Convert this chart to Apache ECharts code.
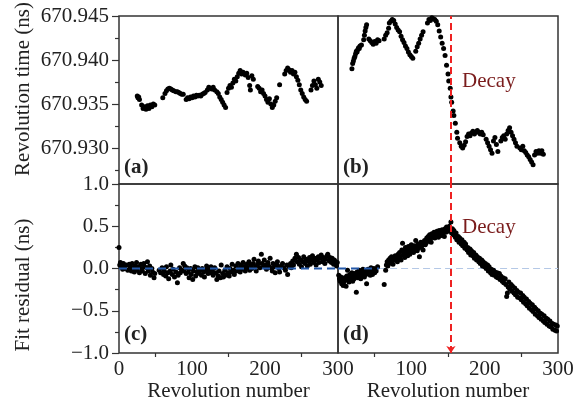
<!DOCTYPE html>
<html><head><meta charset="utf-8">
<script src="https://cdn.jsdelivr.net/npm/echarts@6/dist/echarts.min.js"></script>
<style>html,body{margin:0;padding:0;background:#fff}#c{width:584px;height:410px}</style>
</head><body><div id="c"></div>
<script>
// ---- data ----
const revTickLabels = [0, 100, 200, 300];
const revTickLabelsRight = [100, 200, 300];
const revMinorTicks = [50, 150, 250];
const timeTickLabels = [670.930, 670.935, 670.940, 670.945];
const timeMinorTicks = [670.9275, 670.9325, 670.9375, 670.9425];
const residTickLabels = [-1.0, -0.5, 0.0, 0.5, 1.0];
const residMinorTicks = [-0.75, -0.25, 0.25, 0.75];
const decayRevolution = 154;

// (a) revolution time, no decay [revolution, ns]
const panelA = [[25,670.9359],[26,670.9357],[27,670.9358],[28,670.9355],
[31,670.9349],[33,670.9345],[35,670.9347],[37,670.9344],[39,670.9348],[41,670.9345],[43,670.9349],[45,670.9347],[47,670.9350],[49,670.9349],
[60,670.9357],[63,670.9362],[65,670.9365],[67,670.9367],[69,670.9368],[71,670.9367],[73,670.9366],[75,670.9365],[78,670.9364],[80,670.9364],[82,670.9363],[84,670.9362],[86,670.9361],[88,670.9361],
[92,670.9355],[94,670.9357],[96,670.9356],[98,670.9358],[100,670.9357],[102,670.9359],[104,670.9358],[106,670.9360],[108,670.9359],[110,670.9360],[112,670.9359],[114,670.9361],[116,670.9362],[118,670.9363],
[121,670.9366],[123,670.9369],[125,670.9368],[127,670.9367],[129,670.9369],[131,670.9366],
[134,670.9364],[136,670.9362],[138,670.9358],[140,670.9355],[142,670.9352],[144,670.9349],[146,670.9346],
[148,670.9363],[150,670.9368],[152,670.9371],[154,670.9369],[156,670.9374],[158,670.9378],[160,670.9376],[162,670.9381],[164,670.9385],[166,670.9388],[168,670.9384],[170,670.9386],
[173,670.9383],[175,670.9385],[177,670.9380],[179,670.9371],[180,670.9366],[182,670.9382],[184,670.9378],
[190,670.9370],[192,670.9368],[194,670.9364],[196,670.9366],[198,670.9362],[200,670.9359],[202,670.9355],[204,670.9352],[206,670.9356],[208,670.9350],[210,670.9346],[212,670.9349],[214,670.9353],[216,670.9357],
[220,670.9372],
[227,670.9384],[229,670.9388],[231,670.9391],[233,670.9389],[235,670.9386],[237,670.9388],[239,670.9384],[241,670.9386],[243,670.9381],[245,670.9377],[247,670.9372],[249,670.9366],[251,670.9362],[253,670.9358],[255,670.9355],[257,670.9353],
[263,670.9366],[265,670.9371],[267,670.9376],[269,670.9372],[271,670.9368],[273,670.9378],[275,670.9375],[277,670.9371]];

// (b) revolution time, with decay
const panelB = [[19,670.9390],[20,670.9396],[21,670.9399],[22,670.9402],[23,670.9404],[24,670.9407],[25,670.9410],[26,670.9409],[27,670.9412],[28,670.9414],[29,670.9413],[30,670.9416],[32,670.9417],
[35,670.9423],[36,670.9428],[37,670.9433],[38,670.9437],[39,670.9440],
[42,670.9424],[44,670.9422],[46,670.9420],[48,670.9418],[50,670.9421],[52,670.9419],[54,670.9423],[56,670.9422],
[63,670.9424],[65,670.9428],[67,670.9431],[69,670.9436],[70,670.9442],[72,670.9444],[74,670.9446],[76,670.9445],[78,670.9441],[80,670.9437],[82,670.9434],[84,670.9432],
[86,670.9427],[88,670.9423],[90,670.9420],[92,670.9416],[94,670.9413],[96,670.9409],[98,670.9406],[100,670.9404],[102,670.9402],
[106,670.9410],[108,670.9415],[110,670.9419],[112,670.9424],[114,670.9428],[116,670.9432],
[122,670.9442],[124,670.9446],[126,670.9445],[128,670.9448],[130,670.9447],[132,670.9446],[134,670.9444],[136,670.9440],[138,670.9433],[140,670.9426],[142,670.9419],[144,670.9413],[146,670.9405],[148,670.9394],[150,670.9384],[151,670.9376],[153,670.9368],[154,670.9358],[155,670.9352],[157,670.9342],[158,670.9337],[160,670.9328],[162,670.9318],[163,670.9311],
[166,670.9306],[168,670.9302],[170,670.9300],[172,670.9303],[174,670.9307],[176,670.9313],[178,670.9316],[180,670.9314],[182,670.9317],[184,670.9319],[186,670.9316],[188,670.9318],[190,670.9320],[192,670.9318],[194,670.9316],[196,670.9318],[198,670.9315],
[202,670.9310],[204,670.9306],[206,670.9302],[208,670.9298],[210,670.9294],[212,670.9308],[214,670.9312],[216,670.9304],[218,670.9296],
[222,670.9308],[224,670.9312],[226,670.9314],[228,670.9310],[230,670.9316],[232,670.9320],[234,670.9323],[236,670.9318],[238,670.9314],[240,670.9310],[242,670.9306],[244,670.9302],
[248,670.9300],[250,670.9298],[252,670.9302],[254,670.9297],[256,670.9295],[258,670.9292],[260,670.9290],[262,670.9287],[264,670.9284],[266,670.9281],[268,670.9292],[270,670.9296],[272,670.9294],[274,670.9297],[276,670.9294],[278,670.9297],[280,670.9293]];

// (c) fit residual, no decay [revolution, ns]
const panelC = [[0,0.25],[1,0.04],[2,0.07],[3,0.02],[4,0.05],[5,-0.01],[6,0.06],[7,0.03],[8,0.00],[10,0.04],[12,-0.02],[14,0.05],[15,0.02],[17,-0.03],[18,0.06],[20,0.01],[21,-0.04],[22,0.03],[24,0.07],[25,-0.02],[27,0.02],[28,-0.05],[30,0.05],[31,0.00],[32,-0.03],[34,0.06],[35,0.02],[36,-0.06],[38,0.01],[39,0.08],[40,-0.03],[42,0.03],[43,-0.08],[45,0.00],[46,-0.04],[48,-0.11],[49,-0.06],
[55,-0.02],[57,-0.05],[59,0.01],[61,-0.07],[62,-0.03],[64,-0.09],[65,0.02],[67,-0.05],[68,-0.12],[70,-0.03],[71,0.04],[73,-0.07],[74,-0.01],[76,-0.10],[78,-0.04],[80,-0.17],[81,-0.08],[83,0.01],[84,-0.05],[86,-0.02],[88,0.06],[89,-0.03],[90,0.03],[92,-0.06],[93,0.01],[95,-0.04],[96,-0.11],[98,0.00],[99,-0.07],[101,-0.13],[102,-0.03],[104,0.02],[105,-0.09],[107,-0.04],[108,0.01],[110,-0.06],[111,-0.02],[113,-0.08],[114,0.00],[116,-0.04],[117,-0.10],[119,-0.02],[120,0.03],[122,-0.06],[123,-0.01],[125,-0.05],[126,0.02],[128,-0.03],[129,-0.08],[131,0.01],[133,-0.05],[134,-0.13],[136,-0.09],[137,-0.03],[139,-0.11],[140,0.04],[142,-0.06],[143,-0.10],[145,-0.02],[146,-0.08],[148,0.02],[149,-0.05],[151,-0.09],[152,0.00],[154,-0.04],[155,0.05],[157,-0.02],[158,-0.07],[160,0.03],[161,-0.03],[163,0.06],[164,0.00],[166,-0.04],[167,0.04],[169,-0.01],[170,0.07],[172,0.02],[173,-0.03],[175,0.05],[176,0.01],[178,0.08],[179,-0.02],[181,0.04],[182,0.00],[184,0.06],[185,0.11],[187,0.02],[188,-0.03],[190,0.05],[191,0.09],[193,0.01],[195,0.17],[196,0.06],[198,0.02],[199,0.10],[201,0.04],[202,-0.01],[204,0.07],[205,0.03],[207,0.12],[208,0.01],[210,-0.03],[211,0.06],[213,0.02],[214,-0.05],[216,0.04],[217,0.08],[219,0.00],[220,-0.04],[222,0.03],[224,0.06],[226,0.01],[228,-0.02],[230,0.04],[231,-0.07],[233,0.02],[235,0.06],[236,0.01],[238,0.09],[239,0.04],[241,0.12],[243,0.17],[244,0.08],[246,0.13],[247,0.05],[249,0.10],[250,0.02],[252,0.08],[253,0.14],[255,0.06],[256,0.11],[258,0.03],[259,0.09],[261,0.13],[262,0.05],[264,0.10],[265,0.15],[267,0.07],[268,0.12],[270,0.04],[271,0.10],[273,0.14],[274,0.07],[276,0.12],[277,0.16],[279,0.08],[280,0.13],[282,0.06],[283,0.11],[285,0.15],[286,0.17],[288,0.09],[289,0.13],[291,0.07],[292,0.12],[294,0.05],[295,0.10],[297,0.08],[298,0.03],[299,0.07]];

// (d) fit residual, with decay
const panelD = [[1,-0.08],[2,-0.12],[3,-0.15],[4,-0.10],[5,-0.18],[6,-0.13],[7,-0.20],[8,-0.16],[9,-0.11],[10,-0.14],[11,-0.21],[12,-0.09],[13,-0.02],[14,-0.12],[15,-0.16],[16,-0.07],[17,-0.13],[18,-0.10],[19,-0.05],[20,-0.15],[21,-0.09],[22,-0.12],[23,-0.06],[24,-0.10],[25,-0.28],[26,-0.04],[27,-0.11],[28,-0.08],[29,-0.02],[30,-0.07],[31,-0.12],[32,-0.05],[33,-0.09],[34,-0.01],[35,-0.06],[36,-0.10],[37,-0.03],[38,-0.07],[39,-0.18],[40,-0.04],[41,-0.01],[42,-0.06],[43,-0.02],[44,-0.08],[45,0.01],[46,-0.04],[47,-0.07],[48,-0.02],[49,0.00],[50,-0.05],
[52,-0.03],[54,0.02],[63,-0.19],[65,-0.02],[66,0.04],[67,0.08],[68,0.03],[69,0.10],[70,0.06],[71,0.12],[72,0.07],[73,0.14],[74,0.09],[75,0.05],[76,0.11],[78,0.15],[79,0.10],[80,0.13],[81,0.08],[82,0.17],[83,0.12],[84,0.19],[85,0.14],[86,0.10],[87,0.22],[88,0.30],[89,0.16],[90,0.20],[91,0.13],[92,0.25],[93,0.18],[94,0.22],[95,0.15],[96,0.26],[97,0.20],[98,0.17],[99,0.23],[100,0.28],[101,0.21],[102,0.25],[103,0.19],[104,0.27],[105,0.23],[106,0.33],[107,0.26],[108,0.21],[109,0.29],[110,0.24],[111,0.14],[112,0.27],[113,0.31],[114,0.26],[115,0.30],[116,0.22],[118,0.33],[119,0.28],
[120,0.30],[121,0.36],[122,0.32],[123,0.38],[124,0.34],[125,0.40],[126,0.35],[127,0.31],[128,0.41],[129,0.37],[130,0.39],[131,0.43],[132,0.36],[133,0.42],[134,0.38],[135,0.44],[136,0.40],[137,0.37],[138,0.45],[139,0.41],[140,0.43],[141,0.39],[142,0.46],[143,0.42],[144,0.44],[145,0.38],[146,0.47],[147,0.43],[148,0.49],[149,0.45],[150,0.48],[151,0.44],[152,0.50],[153,0.46],[154,0.55],[155,0.42],
[156,0.47],[157,0.40],[158,0.45],[160,0.37],[161,0.42],[162,0.34],[164,0.38],[165,0.31],[166,0.36],[168,0.29],[169,0.34],[170,0.27],[172,0.31],[173,0.24],[174,0.29],[176,0.22],[177,0.25],[178,0.19],[180,0.23],[181,0.16],[182,0.21],[184,0.15],[185,0.19],[186,0.12],[188,0.16],[189,0.10],[190,0.14],[192,0.08],[193,0.12],[194,0.06],[196,0.10],[197,0.03],[198,0.08],[200,0.02],[201,0.06],[202,0.00],[204,0.04],[205,-0.03],[206,0.02],[208,-0.05],[209,-0.01],[210,-0.07],[212,-0.02],[213,-0.08],[214,-0.04],[216,-0.10],[217,-0.05],[218,-0.11],[220,-0.06],[221,-0.13],[222,-0.09],[224,-0.15],[225,-0.11],[226,-0.17],[228,-0.12],[229,-0.19],[230,-0.33],[231,-0.29],[232,-0.22],[233,-0.16],[234,-0.24],[236,-0.19],[237,-0.27],[238,-0.21],[240,-0.29],[241,-0.23],[242,-0.31],[244,-0.26],[245,-0.34],[246,-0.28],[248,-0.35],[249,-0.29],[250,-0.37],[252,-0.32],[253,-0.40],[254,-0.34],[256,-0.42],[257,-0.36],[258,-0.44],[260,-0.39],[261,-0.47],[262,-0.41],[264,-0.49],[265,-0.43],[266,-0.51],[268,-0.46],[269,-0.54],[270,-0.48],[272,-0.56],[273,-0.50],[274,-0.58],[276,-0.53],[277,-0.60],[278,-0.54],[280,-0.62],[281,-0.56],[282,-0.64],[284,-0.59],[285,-0.66],[286,-0.60],[288,-0.68],[289,-0.62],[290,-0.69],[292,-0.65],[293,-0.72],[294,-0.66],[296,-0.73],[297,-0.67],[298,-0.74],[299,-0.68]];

// zero reference segments (revolution ranges)
const zeroLineC = [[0,0],[300,0]];
const zeroLineDDark = [[0,0],[56,0]];
const zeroLineDLight = [[56,0],[300,0]];

// ---- chart ----
const FONT = '"Liberation Serif","Times New Roman",serif';
const TXT = '#222';
const timeMin = 670.945 - 168 * 0.005 / 44;

function gridBox(left, top, width, height) {
  return {left, top, width, height, show: true, borderColor: '#333', borderWidth: 1.5, backgroundColor: 'transparent', containLabel: false};
}
function xHidden(gi) {
  return {type: 'value', gridIndex: gi, min: 0, max: 300, axisLine: {show: false}, axisTick: {show: false}, axisLabel: {show: false}, splitLine: {show: false}};
}
function xShown(gi, labels) {
  return {type: 'value', gridIndex: gi, min: 0, max: 300,
    axisLine: {show: false, onZero: false},
    axisTick: {show: true, inside: false, length: 4, lineStyle: {color: '#333', width: 1.2}, customValues: revMinorTicks},
    axisLabel: {show: true, customValues: labels, margin: 6, fontFamily: FONT, fontSize: 21, color: TXT},
    splitLine: {show: false}};
}
function yHidden(gi, min, max) {
  return {type: 'value', gridIndex: gi, min, max, axisLine: {show: false}, axisTick: {show: false}, axisLabel: {show: false}, splitLine: {show: false}};
}
function yMajor(gi, min, max, labels, fmt) {
  return {type: 'value', gridIndex: gi, min, max, position: 'left',
    axisLine: {show: false, onZero: false},
    axisTick: {show: true, inside: false, length: 7, lineStyle: {color: '#333', width: 1.2}, customValues: labels},
    axisLabel: {show: true, customValues: labels, margin: 10, fontFamily: FONT, fontSize: 21, color: TXT, formatter: fmt},
    splitLine: {show: false}};
}
function yMinor(gi, min, max, ticks) {
  return {type: 'value', gridIndex: gi, min, max, position: 'left',
    axisLine: {show: false, onZero: false},
    axisTick: {show: true, inside: false, length: 4, lineStyle: {color: '#333', width: 1.2}, customValues: ticks},
    axisLabel: {show: false}, splitLine: {show: false}};
}
const fmtTime = v => Number(v).toFixed(3);
const fmtRes = v => { const s = Math.abs(v).toFixed(1); return v < -1e-9 ? '\u2212' + s : s; };

const dot = {color: '#000', opacity: 1};
const SYM = 5;
const redLine = {color: '#ee2222', type: [7, 4], width: 2};

const option = {
  animation: false,
  backgroundColor: '#fff',
  grid: [
    gridBox(119, 16, 219, 168),
    gridBox(338, 16, 220, 168),
    gridBox(119, 184, 219, 169),
    gridBox(338, 184, 220, 169)
  ],
  xAxis: [xHidden(0), xHidden(1), xShown(2, revTickLabels), xShown(3, revTickLabelsRight)],
  yAxis: [
    yMajor(0, timeMin, 670.945, timeTickLabels, fmtTime),
    yMinor(0, timeMin, 670.945, timeMinorTicks),
    yHidden(1, timeMin, 670.945),
    yMajor(2, -1, 1, residTickLabels, fmtRes),
    yMinor(2, -1, 1, residMinorTicks),
    yHidden(3, -1, 1)
  ],
  series: [
    {type: 'scatter', xAxisIndex: 0, yAxisIndex: 0, data: panelA, symbolSize: SYM, itemStyle: dot, z: 5},
    {type: 'scatter', xAxisIndex: 1, yAxisIndex: 2, data: panelB, symbolSize: SYM, itemStyle: dot, z: 5,
      markLine: {silent: true, symbol: 'none', label: {show: false}, lineStyle: redLine, data: [{xAxis: decayRevolution}], z: 6}},
    {type: 'scatter', xAxisIndex: 2, yAxisIndex: 3, data: panelC, symbolSize: SYM, itemStyle: dot, z: 5},
    {type: 'line', xAxisIndex: 2, yAxisIndex: 3, data: zeroLineC, symbol: 'none', lineStyle: {color: '#2458a8', type: [8, 5], width: 2}, z: 6},
    {type: 'line', xAxisIndex: 3, yAxisIndex: 5, data: zeroLineDDark, symbol: 'none', lineStyle: {color: '#2458a8', type: [8, 5], width: 2}, z: 6},
    {type: 'line', xAxisIndex: 3, yAxisIndex: 5, data: zeroLineDLight, symbol: 'none', lineStyle: {color: '#b4c8e6', type: [7, 4], width: 1.2}, z: 3},
    {type: 'scatter', xAxisIndex: 3, yAxisIndex: 5, data: panelD, symbolSize: SYM, itemStyle: dot, z: 5,
      markLine: {silent: true, symbol: ['arrow', 'none'], symbolSize: 7, label: {show: false}, lineStyle: redLine, data: [{xAxis: decayRevolution}], z: 6}}
  ],
  graphic: [
    {type: 'text', x: 23, y: 89, rotation: Math.PI / 2, style: {text: 'Revolution time (ns)', font: '21px ' + FONT, fill: TXT, textAlign: 'center', textVerticalAlign: 'middle'}},
    {type: 'text', x: 23, y: 285, rotation: Math.PI / 2, style: {text: 'Fit residual (ns)', font: '21px ' + FONT, fill: TXT, textAlign: 'center', textVerticalAlign: 'middle'}},
    {type: 'text', x: 228.5, y: 391, style: {text: 'Revolution number', font: '21px ' + FONT, fill: TXT, textAlign: 'center', textVerticalAlign: 'middle'}},
    {type: 'text', x: 448, y: 391, style: {text: 'Revolution number', font: '21px ' + FONT, fill: TXT, textAlign: 'center', textVerticalAlign: 'middle'}},
    {type: 'text', x: 124, y: 168, style: {text: '(a)', font: 'bold 21px ' + FONT, fill: TXT, textAlign: 'left', textVerticalAlign: 'middle'}},
    {type: 'text', x: 343, y: 168, style: {text: '(b)', font: 'bold 21px ' + FONT, fill: TXT, textAlign: 'left', textVerticalAlign: 'middle'}},
    {type: 'text', x: 124, y: 335, style: {text: '(c)', font: 'bold 21px ' + FONT, fill: TXT, textAlign: 'left', textVerticalAlign: 'middle'}},
    {type: 'text', x: 343, y: 335, style: {text: '(d)', font: 'bold 21px ' + FONT, fill: TXT, textAlign: 'left', textVerticalAlign: 'middle'}},
    {type: 'text', x: 462, y: 81, style: {text: 'Decay', font: '21px ' + FONT, fill: '#7a1c1c', textAlign: 'left', textVerticalAlign: 'middle'}},
    {type: 'text', x: 462, y: 227, style: {text: 'Decay', font: '21px ' + FONT, fill: '#7a1c1c', textAlign: 'left', textVerticalAlign: 'middle'}}
  ]
};
const chart = echarts.init(document.getElementById('c'), null, {renderer: 'canvas'});
chart.setOption(option);
</script></body></html>
